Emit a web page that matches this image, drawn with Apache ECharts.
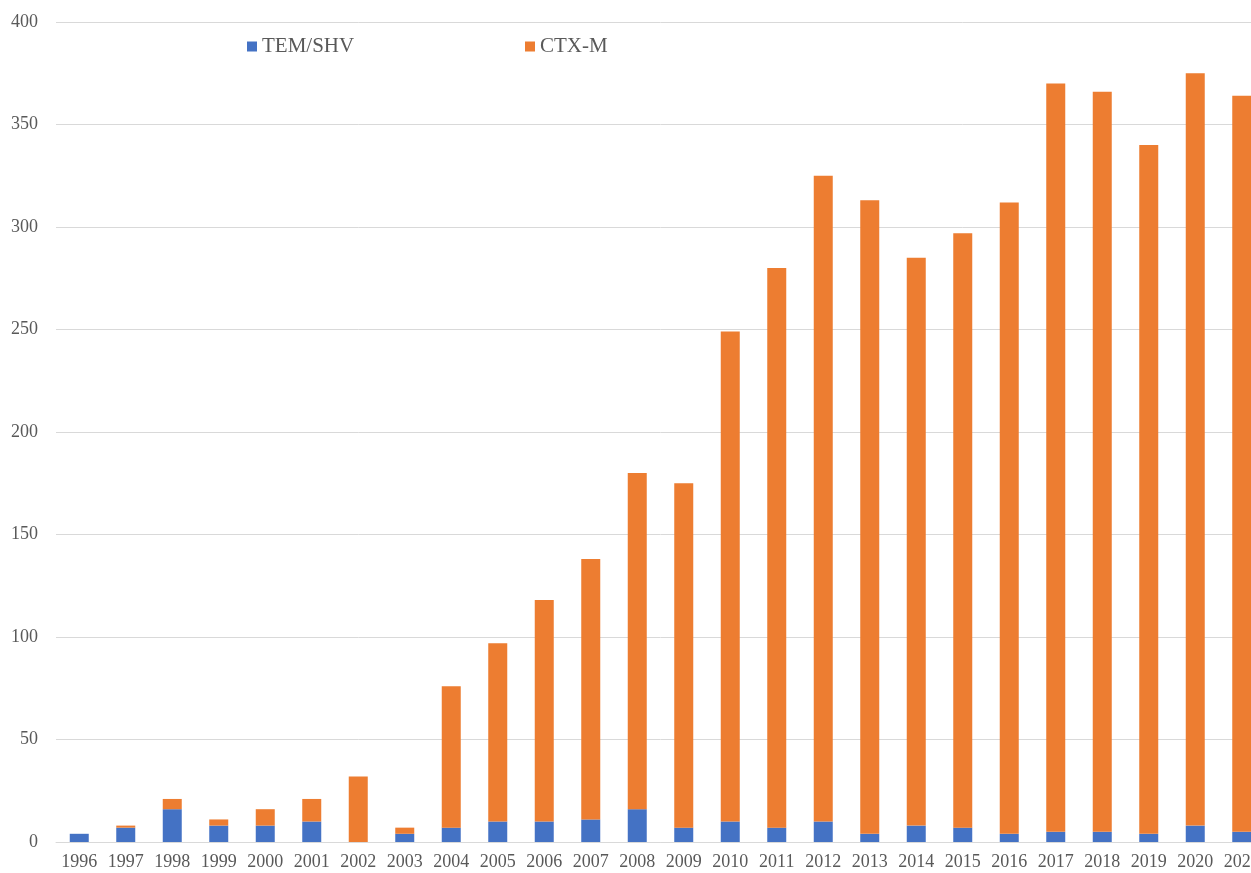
<!DOCTYPE html>
<html>
<head>
<meta charset="utf-8">
<title>TEM/SHV vs CTX-M</title>
<script src="https://cdn.jsdelivr.net/npm/echarts@6/dist/echarts.min.js"></script>
<style>
  html, body { margin: 0; padding: 0; background: #fff; overflow: hidden; }
  /* chart is a bit wider than the window: the last year is cut off like in the original */
  #chart { width: 1275px; height: 873px; }
</style>
</head>
<body>
<div id="chart"></div>
<script>
  // years on the x axis
  var years = ['1996', '1997', '1998', '1999', '2000', '2001', '2002', '2003', '2004', '2005',
    '2006', '2007', '2008', '2009', '2010', '2011', '2012', '2013', '2014', '2015',
    '2016', '2017', '2018', '2019', '2020', '2021']
  // blue part (bottom of stack)
  var temShv = [4, 7, 16, 8, 8, 10, 0, 4, 7, 10,
    10, 11, 16, 7, 10, 7, 10, 4, 8, 7,
    4, 5, 5, 4, 8, 5]
  // bar totals
  var totals = [4, 8, 21, 11, 16, 21, 32, 7, 76, 97,
    118, 138, 180, 175, 249, 280, 325, 313, 285, 297,
    312, 370, 366, 340, 375, 364]
  // orange part = total - blue
  var ctxM = totals.map(function (t, i) { return t - temShv[i] })

  var yTicks = { min: 0, max: 400, interval: 50 }

  var font = 'Liberation Serif, Times New Roman, serif'
  var textColor = '#595959'
  var gridColor = '#d9d9d9'

  var chart = echarts.init(document.getElementById('chart'))
  chart.setOption({
    animation: false,
    color: ['#4472C4', '#ED7D31'],
    textStyle: { fontFamily: font },
    legend: [
      {
        data: ['TEM/SHV'],
        left: 247, top: 36, padding: 0,
        itemWidth: 10, itemHeight: 10, icon: 'rect',
        textStyle: { fontFamily: font, fontSize: 21, color: textColor }
      },
      {
        data: ['CTX-M'],
        left: 525, top: 36, padding: 0,
        itemWidth: 10, itemHeight: 10, icon: 'rect',
        textStyle: { fontFamily: font, fontSize: 21, color: textColor }
      }
    ],
    grid: { left: 56, top: 22, width: 1209, height: 820, containLabel: false },
    xAxis: {
      type: 'category',
      data: years,
      axisLine: { lineStyle: { color: gridColor, width: 1 } },
      axisTick: { show: false },
      axisLabel: { interval: 0, margin: 11, fontFamily: font, fontSize: 18, color: textColor }
    },
    yAxis: {
      type: 'value',
      min: yTicks.min,
      max: yTicks.max,
      interval: yTicks.interval,
      axisLine: { show: false },
      axisTick: { show: false },
      splitLine: { lineStyle: { color: gridColor, width: 1 } },
      axisLabel: { margin: 18, fontFamily: font, fontSize: 18, color: textColor }
    },
    series: [
      {
        name: 'TEM/SHV',
        type: 'bar',
        stack: 'total',
        barWidth: 19,
        data: temShv
      },
      {
        name: 'CTX-M',
        type: 'bar',
        stack: 'total',
        barWidth: 19,
        data: ctxM
      }
    ]
  })
</script>
</body>
</html>
